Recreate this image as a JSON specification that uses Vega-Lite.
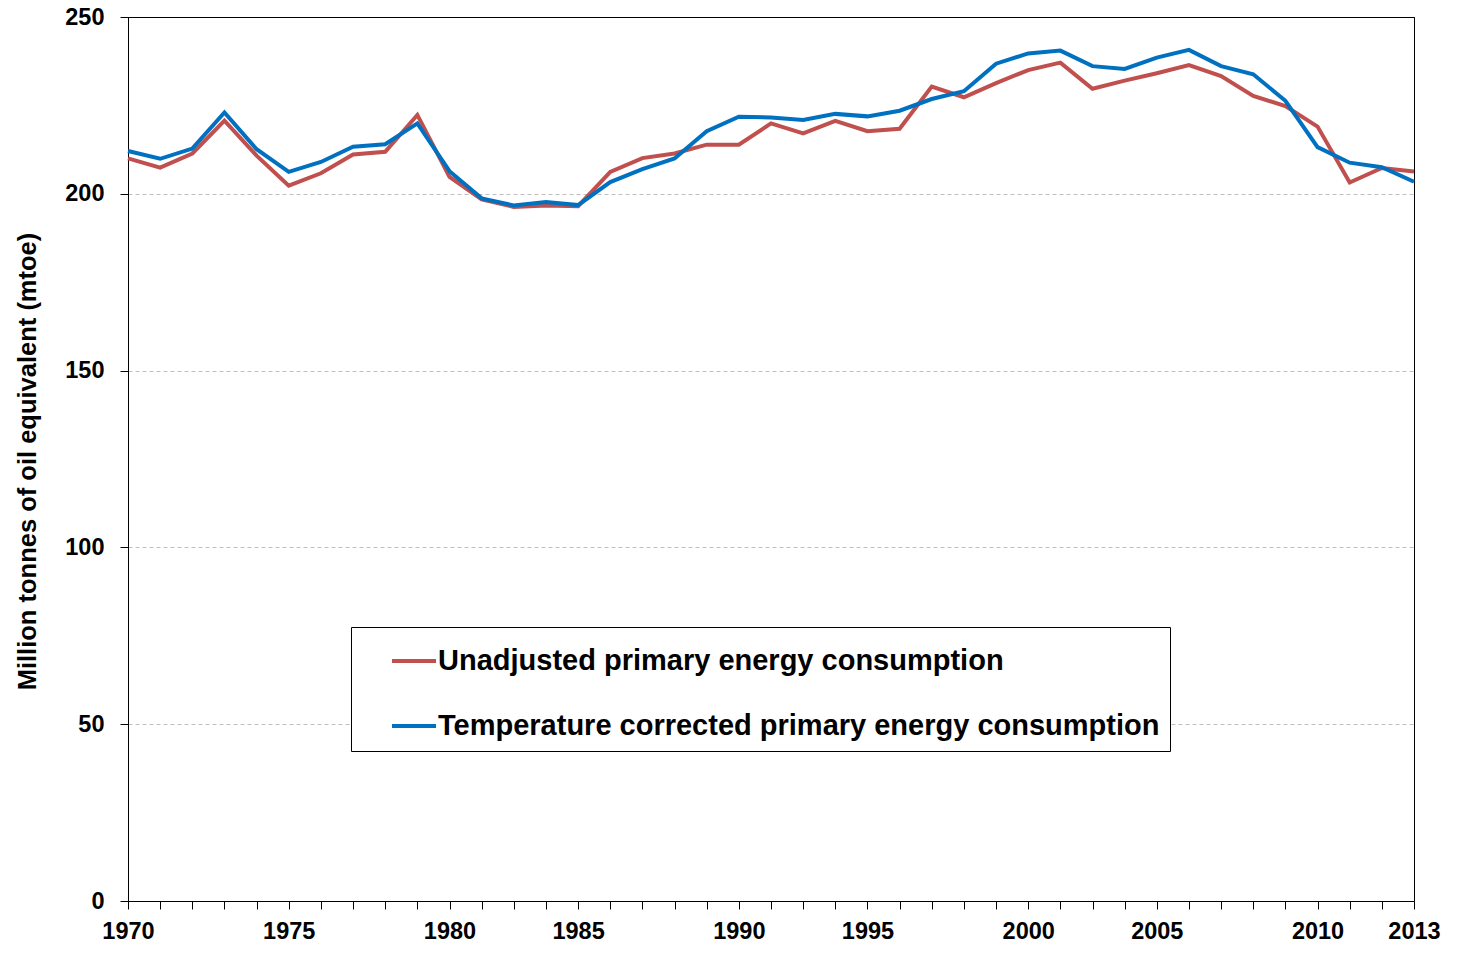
{
  "$schema": "https://vega.github.io/schema/vega-lite/v6.json",
  "autosize": "none",
  "width": 1286,
  "height": 884,
  "padding": {"left": 128, "top": 17, "right": 50, "bottom": 59},
  "background": "white",
  "config": {
    "view": {"stroke": "black", "strokeWidth": 1},
    "font": "Liberation Sans"
  },
  "data": {
    "values": [
      {"i": 0, "unadjusted": 210.0, "corrected": 212.1},
      {"i": 1, "unadjusted": 207.4, "corrected": 209.9},
      {"i": 2, "unadjusted": 211.4, "corrected": 212.8},
      {"i": 3, "unadjusted": 220.7, "corrected": 223.0},
      {"i": 4, "unadjusted": 210.8, "corrected": 212.6},
      {"i": 5, "unadjusted": 202.3, "corrected": 206.2},
      {"i": 6, "unadjusted": 205.8, "corrected": 209.0},
      {"i": 7, "unadjusted": 211.1, "corrected": 213.3},
      {"i": 8, "unadjusted": 211.9, "corrected": 214.0},
      {"i": 9, "unadjusted": 222.3, "corrected": 219.9},
      {"i": 10, "unadjusted": 204.8, "corrected": 206.4},
      {"i": 11, "unadjusted": 198.4, "corrected": 198.7},
      {"i": 12, "unadjusted": 196.3, "corrected": 196.7},
      {"i": 13, "unadjusted": 196.7, "corrected": 197.7},
      {"i": 14, "unadjusted": 196.5, "corrected": 196.8},
      {"i": 15, "unadjusted": 206.2, "corrected": 203.3},
      {"i": 16, "unadjusted": 210.1, "corrected": 207.0},
      {"i": 17, "unadjusted": 211.4, "corrected": 210.0},
      {"i": 18, "unadjusted": 213.9, "corrected": 217.7},
      {"i": 19, "unadjusted": 213.9, "corrected": 221.8},
      {"i": 20, "unadjusted": 219.9, "corrected": 221.6},
      {"i": 21, "unadjusted": 217.1, "corrected": 220.9},
      {"i": 22, "unadjusted": 220.6, "corrected": 222.6},
      {"i": 23, "unadjusted": 217.7, "corrected": 221.9},
      {"i": 24, "unadjusted": 218.4, "corrected": 223.5},
      {"i": 25, "unadjusted": 230.3, "corrected": 226.8},
      {"i": 26, "unadjusted": 227.3, "corrected": 229.0},
      {"i": 27, "unadjusted": 231.3, "corrected": 236.8},
      {"i": 28, "unadjusted": 235.0, "corrected": 239.7},
      {"i": 29, "unadjusted": 237.1, "corrected": 240.5},
      {"i": 30, "unadjusted": 229.7, "corrected": 236.1},
      {"i": 31, "unadjusted": 232.0, "corrected": 235.3},
      {"i": 32, "unadjusted": 234.1, "corrected": 238.5},
      {"i": 33, "unadjusted": 236.4, "corrected": 240.7},
      {"i": 34, "unadjusted": 233.3, "corrected": 236.1},
      {"i": 35, "unadjusted": 227.7, "corrected": 233.8},
      {"i": 36, "unadjusted": 224.8, "corrected": 226.3},
      {"i": 37, "unadjusted": 219.0, "corrected": 213.2},
      {"i": 38, "unadjusted": 203.2, "corrected": 208.8},
      {"i": 39, "unadjusted": 207.3, "corrected": 207.5},
      {"i": 40, "unadjusted": 206.3, "corrected": 203.4}
    ]
  },
  "transform": [
    {"fold": ["unadjusted", "corrected"], "as": ["series", "value"]}
  ],
  "mark": {"type": "line", "strokeWidth": 4, "strokeJoin": "miter"},
  "encoding": {
    "x": {
      "field": "i",
      "type": "quantitative",
      "scale": {"domain": [0, 40], "nice": false, "zero": false},
      "axis": {
        "title": null,
        "grid": false,
        "values": [0,1,2,3,4,5,6,7,8,9,10,11,12,13,14,15,16,17,18,19,20,21,22,23,24,25,26,27,28,29,30,31,32,33,34,35,36,37,38,39,40],
        "labelExpr": "['1970','','','','','1975','','','','','1980','','','','1985','','','','','1990','','','','1995','','','','','2000','','','','2005','','','','','2010','','','2013'][datum.value]",
        "labelOverlap": false,
        "labelFlush": false,
        "labelFont": "Liberation Sans",
        "labelFontWeight": "bold",
        "labelFontSize": 23.5,
        "labelColor": "black",
        "labelPadding": 10,
        "tickSize": 8,
        "tickColor": "black",
        "domainColor": "black",
        "domainWidth": 1
      }
    },
    "y": {
      "field": "value",
      "type": "quantitative",
      "scale": {"domain": [0, 250], "nice": false},
      "axis": {
        "title": "Million  tonnes of oil equivalent  (mtoe)",
        "titleFont": "Liberation Sans",
        "titleFontWeight": "bold",
        "titleFontSize": 25.5,
        "titleColor": "black",
        "titleAngle": -90,
        "titleX": -101,
        "titleY": 444,
        "titleAlign": "center",
        "titleBaseline": "middle",
        "values": [0, 50, 100, 150, 200, 250],
        "labelFont": "Liberation Sans",
        "labelFontWeight": "bold",
        "labelFontSize": 23.5,
        "labelColor": "black",
        "labelPadding": 16,
        "labelFlush": false,
        "tickSize": 8,
        "tickColor": "black",
        "domainColor": "black",
        "grid": true,
        "gridColor": {"condition": {"test": "datum.value == 250", "value": "black"}, "value": "#BFBFBF"},
        "gridDash": {"condition": {"test": "datum.value == 250", "value": []}, "value": [4, 3]},
        "gridWidth": 1
      }
    },
    "color": {
      "field": "series",
      "type": "nominal",
      "scale": {"domain": ["unadjusted", "corrected"], "range": ["#C0504D", "#0070C0"]},
      "legend": {
        "title": null,
        "orient": "none",
        "legendX": 223,
        "legendY": 610,
        "direction": "vertical",
        "fillColor": "white",
        "strokeColor": "black",
        "padding": 10,
        "symbolOffset": 29,
        "symbolType": "stroke",
        "symbolSize": 1936,
        "symbolStrokeWidth": 4,
        "labelFont": "Liberation Sans",
        "labelFontWeight": "bold",
        "labelFontSize": 29,
        "labelColor": "black",
        "labelOffset": 0,
        "labelLimit": 1000,
        "rowPadding": 26,
        "labelExpr": "datum.label == 'unadjusted' ? 'Unadjusted primary energy consumption' : 'Temperature corrected primary energy consumption'"
      }
    }
  }
}
